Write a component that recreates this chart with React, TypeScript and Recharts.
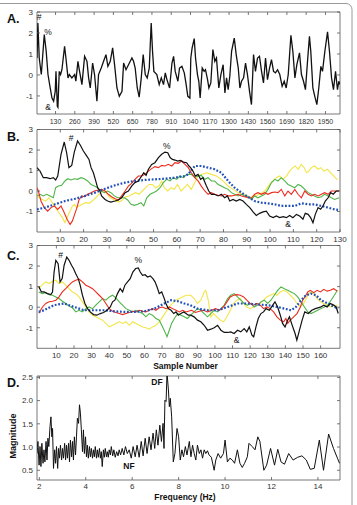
import { LineChart, Line, XAxis, YAxis, ReferenceArea } from 'recharts'

const FONT = '"Liberation Sans", Arial, Helvetica, sans-serif'
const BLACK = '#111111'
const RED = '#ee2b1e'
const GREEN = '#4eb548'
const YELLOW = '#f3e547'
const BLUE = '#1f4fb8'
const AXIS = '#555555'

type Pt = [number, number]

// ---- panel A: raw signal ----
const aTicksX = [130, 260, 390, 520, 650, 780, 910, 1040, 1170, 1300, 1430, 1560, 1690, 1820, 1950]
const aTicksY = [-1, 0, 1, 2, 3]
const aSignal: Pt[] = [
  [5, 0.81], [11, 2.48], [20, 0.81], [34, 0.02], [54, 1.92], [67, 1.13], [79, 0.02], [94, -0.62], [106, -1.1], [117, -1.25],
  [128, -0.78], [133, 0.17], [142, -1.49], [146, -1.54], [155, 0.17], [164, 0.02], [173, 0.25], [191, 1.36], [200, 0.81], [214, -0.14],
  [223, 0.02], [240, -0.14], [259, 0.02], [267, -0.3], [281, 0.65], [290, 0.25], [308, -0.46], [326, 0.89], [342, 0.65], [353, -0.14],
  [364, -0.62], [380, 0.57], [393, 0.02], [409, -1.25], [420, 0.02], [438, 0.33], [454, 0.65], [470, 0.97], [483, 0.41], [499, 0.65],
  [515, 1.29], [528, 0.49], [544, -0.62], [560, -1.02], [578, -0.78], [589, 0.57], [605, 0.25], [622, 0.49], [645, 0.81], [656, 0.65],
  [667, 0.33], [681, -0.62], [694, -1.06], [708, -0.14], [721, 0.97], [735, 0.02], [748, -0.14], [762, 0.33], [775, 2.48], [784, 1.13],
  [793, 0.17], [813, 0.02], [829, -0.46], [843, -0.14], [858, -0.46], [870, 0.1], [881, -0.22], [899, -0.62], [915, 0.57], [926, 0.89],
  [937, 0.17], [955, -0.3], [966, 0.33], [982, 0.41], [998, 0.1], [1009, -0.38], [1022, -1.02], [1036, -1.1], [1042, 0.81], [1051, 1.29],
  [1065, 1.73], [1074, 0.81], [1087, 0.02], [1096, -0.3], [1105, -1.1], [1119, 0.33], [1132, 0.17], [1141, 0.25], [1155, -0.22], [1164, -0.62],
  [1177, -0.38], [1191, 1.21], [1204, 0.65], [1215, 0.81], [1231, -0.62], [1245, 0.02], [1260, 0.49], [1272, -0.86], [1283, -0.14], [1294, -0.7],
  [1305, -0.06], [1317, 1.13], [1335, 1.76], [1348, 0.97], [1362, 0.33], [1373, -0.62], [1384, -0.3], [1398, -0.14], [1411, 0.57], [1424, 0.02],
  [1438, -0.78], [1451, -1.41], [1465, 0.97], [1478, 0.17], [1492, 0.81], [1505, 0.89], [1519, 0.17], [1532, -0.38], [1546, 0.81], [1559, -0.22],
  [1573, 0.33], [1586, 0.73], [1600, 0.17], [1613, 0.1], [1627, 0.25], [1642, 0.02], [1658, -0.54], [1672, -0.3], [1685, -0.62], [1699, 0.02],
  [1717, 1.89], [1730, 1.13], [1744, -0.14], [1757, 0.49], [1775, 1.05], [1788, 0.02], [1802, -0.3], [1815, -0.7], [1829, 0.65], [1842, 1.84],
  [1851, 1.13], [1865, -0.62], [1878, -1.02], [1892, -1.41], [1905, -0.62], [1919, 0.41], [1930, 0.17], [1946, 1.13], [1964, 2.05], [1977, 1.13],
  [1991, -0.14], [2004, -0.7], [2018, 0.17], [2031, -0.7], [2040, -0.3], [2048, -0.46],
]

// ---- panel B ----
const bTicksX = [10, 20, 30, 40, 50, 60, 70, 80, 90, 100, 110, 120, 130]
const bcTicksY = [-1, 0, 1, 2, 3]
const bBlack: Pt[] = [
  [0, 1.14], [1.3, 0.97], [2.7, 0.65], [4.1, 0.65], [5.6, 0.6], [7, 0.65], [8, 0.54], [8.9, 0.73], [10.3, 1.79], [11.7, 2.39],
  [12.7, 1.87], [13.7, 1.14], [14.9, 1.25], [16, 1.9], [17.4, 2.44], [18.6, 2.23], [19.9, 1.95], [21.3, 1.71], [22.3, 1.54], [23.2, 1.14],
  [24.2, 0.89], [25.2, 0.49], [26, 0.16], [27, 0], [27.7, -0.24], [29.2, -0.41], [30.3, -0.49], [31.7, -0.54], [33.5, -0.49], [34.9, -0.44],
  [36.3, -0.33], [37.8, -0.08], [39.2, 0], [40.6, 0.24], [42, 0.41], [43.5, 0.49], [44.9, 0.73], [45.8, 0.89], [46.8, 0.76], [47.8, 1.06],
  [49.2, 1.3], [50.6, 1.38], [52.1, 1.63], [53.5, 1.79], [54.9, 1.9], [56.1, 1.87], [57.1, 1.63], [58.1, 1.54], [59.2, 1.51], [60.4, 1.46],
  [61.5, 1.49], [62.8, 1.41], [64.2, 1.38], [65.2, 1.22], [65.9, 1.14], [66.9, 0.97], [67.9, 0.73], [69.1, 0.81], [70.2, 0.57], [71.2, 0.65],
  [72.7, 0.24], [73.7, 0], [74.8, -0.16], [76.2, -0.16], [77.7, -0.24], [79.1, -0.16], [80.5, -0.33], [81.7, -0.24], [82.7, -0.49], [84.1, -0.41],
  [85.5, -0.49], [87, -0.41], [88.4, -0.49], [89.8, -0.65], [91.3, -0.81], [92.7, -1.02], [94.1, -1.19], [95.5, -1.09], [97, -1.02], [98.4, -0.98],
  [99.8, -1.22], [101.3, -1.3], [102.7, -1.22], [104.1, -1.3], [105.6, -1.25], [107, -1.3], [108.4, -1.19], [109.8, -1.3], [111.3, -1.14], [112.7, -1.22],
  [114.1, -1.38], [115.1, -1.09], [116.3, -1.14], [117.4, -1.3], [118.4, -1.55], [119.4, -1.14], [120.6, -0.81], [121.7, -0.89], [122.7, -0.73], [123.7, -0.49],
  [124.9, -0.33], [126, -0.08], [127.1, -0.16], [128.4, 0], [129.6, 0],
]
const bRed: Pt[] = [
  [0, 0.16], [0.6, 0], [1.7, -0.49], [3.1, -0.81], [4.6, -0.98], [6, -0.81], [7.4, -0.73], [8.9, -0.9], [10.3, -0.73], [11.7, -1.06],
  [12.9, -1.38], [14.2, -1.63], [15.2, -1.46], [16, -1.19], [17, -0.86], [18, -0.44], [19.2, -0.24], [20.3, -0.28], [21.7, -0.16], [23.2, -0.08],
  [24.6, 0], [26.3, 0.05], [27.7, 0.08], [29.2, 0], [30.6, -0.16], [32, -0.28], [33.5, -0.38], [34.9, -0.44], [36.3, -0.24], [37.8, 0],
  [39.2, 0.24], [40.6, 0.37], [42, 0.57], [43.5, 0.73], [44.9, 0.73], [46.3, 0.81], [47.8, 0.97], [49.2, 1.09], [50.6, 1.19], [52.1, 1.14],
  [53.5, 1.25], [54.9, 1.22], [56.3, 1.3], [57.8, 1.22], [59.2, 1.38], [60.6, 1.35], [62.1, 1.46], [63.5, 1.3], [64.9, 1.14], [66.2, 0.89],
  [67.7, 0.65], [69.1, 0.49], [70.5, 0.24], [72, 0], [73.4, -0.16], [74.8, -0.08], [76.2, -0.16], [77.7, -0.21], [79.1, -0.24], [80.5, -0.16],
  [82, -0.24], [83.4, -0.24], [84.8, -0.21], [86.3, -0.16], [87.7, -0.24], [89.1, -0.28], [90.5, -0.33], [92, -0.33], [93.4, -0.16], [94.8, -0.08],
  [96.3, -0.16], [97.7, -0.08], [99.1, -0.16], [100.6, -0.08], [102, -0.05], [103.4, -0.08], [104.8, 0.08], [106.3, -0.24], [107.7, 0], [109.1, -0.16],
  [110.6, 0.08], [112, -0.16], [113.4, -0.33], [114.9, 0], [116.3, -0.16], [117.7, -0.24], [119.1, -0.16], [120.6, -0.24], [122, -0.16], [123.4, -0.08],
  [124.9, -0.16], [126.3, 0], [127.7, 0], [129.6, 0],
]
const bGreen: Pt[] = [
  [0, -0.24], [1.3, -0.16], [2.7, -0.24], [4.1, -0.16], [5.6, -0.24], [7, -0.33], [8, 0.16], [9.2, 0.24], [10.6, 0.28], [12, 0.49],
  [13.2, 0.6], [14.6, 0.54], [16, 0.6], [17.4, 0.57], [18.9, 0.65], [20.3, 0.6], [21.7, 0.49], [23.2, 0.32], [24.6, 0.24], [26, 0.16],
  [27.5, 0], [28.9, -0.08], [30.3, 0], [31.7, -0.08], [33.2, -0.24], [34.6, -0.33], [36, -0.33], [37.5, -0.33], [38.9, -0.44], [40.3, -0.65],
  [41.8, -0.7], [43.2, -0.65], [44.6, -0.57], [45.8, -0.73], [47.1, -0.33], [48.5, -0.16], [49.9, -0.08], [51.3, 0], [52.8, 0.16], [54.2, 0.41],
  [55.6, 0.57], [57.1, 0.49], [58.5, 0.65], [59.9, 0.57], [61.3, 0.73], [62.8, 0.65], [64.2, 0.81], [66.2, 0.81], [67.7, 0.65], [69.1, 0.73],
  [70.5, 0.76], [72, 0.57], [73.4, 0.65], [74.8, 0.49], [76.2, 0.49], [77.7, 0.32], [79.1, 0.24], [80.5, 0.16], [82, 0.08], [83.4, -0.08],
  [84.8, -0.16], [86.3, -0.24], [87.7, -0.16], [89.1, -0.24], [90.5, -0.28], [92, -0.41], [93.4, -0.24], [94.8, -0.33], [96.3, -0.24], [97.7, -0.16],
  [99.1, 0.08], [100.6, 0.41], [102, 0.57], [103.4, 0.49], [104.8, 0.65], [106.3, 0.49], [107.7, 0.32], [109.1, 0.24], [110.6, 0.16], [112, 0.32],
  [113.4, 0.24], [114.9, 0.08], [116.3, -0.08], [117.7, -0.16], [119.1, -0.24], [120.6, -0.33], [122, -0.28], [123.4, -0.16], [124.9, -0.24], [126.3, -0.33],
  [127.7, -0.41], [129.6, -0.33],
]
const bYellow: Pt[] = [
  [0, -0.16], [0.9, -0.33], [2.3, -0.41], [3.7, -0.49], [5.1, -0.33], [6.6, -0.57], [8, -0.81], [9.4, -1.06], [10.9, -1.3], [12, -1.55],
  [13.2, -1.22], [14.2, -0.98], [15.2, -0.73], [16, -0.65], [17, -0.81], [18, -0.73], [19.4, -0.65], [20.9, -0.57], [22.3, -0.6], [23.7, -0.49],
  [25.2, -0.33], [26.6, -0.16], [28, 0], [29.5, -0.05], [30.9, -0.28], [32.3, -0.38], [33.8, -0.49], [35.2, -0.54], [36.6, -0.44], [38, -0.28],
  [39.5, -0.24], [40.9, -0.16], [42.3, -0.08], [43.8, -0.16], [45.2, 0], [46.6, 0.16], [48.1, 0.32], [49.5, 0.32], [50.9, 0.16], [52.3, 0.24],
  [53.5, 0.49], [54.6, 0.16], [56.1, 0], [57.5, 0.16], [58.9, 0.08], [60.3, 0.32], [61.8, 0], [63.2, 0.16], [64.6, 0.32], [66.2, 0.08],
  [67.7, 0.41], [69.1, 0.73], [70.5, 0.81], [72.7, 0.89], [74.8, 0.81], [77, 0.73], [79.1, 0.57], [80.5, 0.41], [82, 0.24], [84.1, 0.08],
  [86.3, -0.08], [88.4, -0.16], [90.5, -0.24], [92, -0.33], [93.4, -0.24], [95.5, -0.16], [97.7, 0], [99.8, 0.32], [101.3, 0.49], [102.7, 0.65],
  [104.1, 0.73], [105.6, 0.57], [107, 0.73], [108.4, 0.97], [109.8, 1.14], [110.8, 1.22], [112, 1.06], [113.4, 1.3], [114.6, 1.14], [115.6, 0.89],
  [116.6, 0.97], [117.7, 1.14], [119.1, 1.22], [120.6, 1.06], [121.7, 1.14], [123.1, 0.97], [124.6, 1.06], [126, 0.89], [127.4, 0.73], [128.9, 0.54],
]
const bBlue: Pt[] = [
  [0, -0.9], [3.4, -0.81], [7.7, -0.65], [12, -0.49], [16.3, -0.38], [20.6, -0.24], [24.9, -0.08], [29.2, 0.11], [33.5, 0.28], [37.8, 0.41],
  [42, 0.49], [46.3, 0.54], [50.6, 0.57], [54.9, 0.6], [59.2, 0.65], [63.5, 0.73], [64.8, 0.81], [67.7, 1.22], [70.5, 1.22], [73.4, 1.14],
  [76.2, 1.06], [79.1, 0.89], [82, 0.49], [84.8, 0.16], [87.7, -0.08], [90.5, -0.28], [93.4, -0.49], [96.3, -0.57], [99.1, -0.6], [102, -0.65],
  [104.8, -0.73], [107.7, -0.73], [110.6, -0.73], [113.4, -0.6], [116.3, -0.65], [119.1, -0.65], [122, -0.73], [124.9, -0.81], [127.7, -0.9], [129.6, -0.93],
]

// ---- panel C ----
const cTicksX = [10, 20, 30, 40, 50, 60, 70, 80, 90, 100, 110, 120, 130, 140, 150, 160]
const cBlack: Pt[] = [
  [0, 1.0], [1.5, 0.74], [3, 0.74], [4.9, 0.66], [6.8, 0.61], [7.8, 0.74], [8.7, 1.71], [9.7, 2.28], [11, 2.12], [12.1, 1.23],
  [13.3, 1.39], [14.4, 2.04], [15.9, 2.44], [17.2, 2.28], [18.6, 2.04], [19.7, 1.88], [21, 1.63], [22.4, 1.39], [23.5, 1.07], [24.8, 0.58],
  [26.2, 0.18], [27.7, -0.07], [29.2, -0.23], [31.1, -0.36], [33, -0.39], [34.9, -0.31], [36.8, -0.26], [38.7, -0.15], [40.6, 0.01], [41.9, 0.26],
  [43.2, 0.34], [44.7, 0.66], [46.2, 0.9], [47.6, 0.74], [48.9, 1.07], [50.4, 1.23], [51.9, 1.39], [53.4, 1.71], [55, 1.88], [56.5, 1.91],
  [57.6, 1.71], [58.9, 1.55], [60.3, 1.58], [61.8, 1.47], [63.3, 1.52], [64.8, 1.39], [66, 1.23], [67.1, 0.99], [68.4, 0.66], [69.8, 0.74],
  [70.9, 0.5], [72.2, 0.18], [73.5, -0.07], [75.1, -0.15], [76.6, -0.31], [77.9, -0.23], [79.2, -0.39], [80.7, -0.31], [82.3, -0.23], [83.6, -0.31],
  [84.9, -0.39], [86.3, -0.39], [88.2, -0.47], [90.1, -0.63], [92, -0.71], [93.9, -0.88], [95.8, -1.12], [97.7, -1.07], [99.6, -1.0], [101.5, -0.88],
  [103.4, -1.12], [105.3, -1.23], [107.2, -1.23], [109, -1.2], [110.9, -1.28], [112.8, -1.12], [114.7, -1.2], [116.6, -1.04], [118.1, -1.2], [119.5, -0.96],
  [121, -1.36], [122, -1.44], [123.3, -0.96], [124.6, -0.55], [126.1, -0.31], [127.6, -0.23], [129, -0.07], [130.9, -0.15], [132.8, 0.1], [134.1, 0.26],
  [135.6, 0.01], [137.1, -0.39], [138.4, -0.79], [139.8, -0.96], [141.3, -0.63], [142.3, -0.47], [143.5, -0.79], [144.5, -1.04], [145.5, -1.28], [146.5, -1.6],
  [148, -1.12], [149.5, -0.63], [151, -0.23], [153, -0.31], [155, -0.15], [157, -0.07], [159.9, 0], [161.8, 0.1], [163.7, 0.01], [165.5, 0.18],
  [167.4, 0.1], [168.8, 0.01], [170, -0.31],
]
const cRed: Pt[] = [
  [0, -0.3], [2.1, 0.01], [4, 0.18], [5.9, 0.26], [7.8, 0.29], [9.7, 0.34], [11.5, 0.5], [13.4, 0.74], [15.3, 0.9], [17.2, 1.07],
  [19.1, 1.23], [21, 1.31], [22.9, 1.36], [24.8, 1.23], [26.7, 1.07], [28.6, 0.99], [30.5, 0.9], [32.4, 0.74], [34.3, 0.58], [36.2, 0.42],
  [38.1, 0.18], [40, -0.07], [41.9, -0.2], [43.8, -0.26], [45.7, -0.31], [47.6, -0.36], [49.5, -0.31], [51.4, -0.26], [53.3, -0.2], [55.2, -0.23],
  [57.1, -0.15], [59, -0.2], [60.8, -0.23], [62.7, -0.15], [64.6, -0.07], [66.5, -0.15], [68.4, -0.03], [70.3, 0.01], [72.2, -0.07], [74.1, 0.01],
  [76, -0.07], [77.9, -0.15], [79.8, -0.23], [81.7, -0.15], [83.6, -0.23], [86.7, -0.15], [89, -0.26], [91.2, -0.2], [93.5, -0.15], [95.8, -0.23],
  [98.1, -0.15], [100.3, -0.07], [102.6, -0.15], [104.9, 0.01], [106.8, 0.26], [108.7, 0.5], [110.6, 0.58], [112.5, 0.61], [114.4, 0.58], [116.3, 0.5],
  [118.1, 0.34], [120, 0.18], [121.9, 0.1], [123.8, 0.18], [125.7, 0.1], [127.6, -0.07], [129.5, 0.01], [131.4, -0.07], [133.3, -0.23], [135.2, -0.47],
  [137.1, -0.63], [139, -0.71], [140.3, -0.55], [141.3, -0.79], [142.8, -0.63], [144.7, -0.47], [146.6, -0.31], [148.5, 0.01], [149.8, 0.34], [151.1, 0.5],
  [152.7, 0.74], [154.2, 0.82], [156.1, 0.71], [158, 0.82], [159.9, 0.74], [161.8, 0.87], [163.7, 0.78], [165.5, 0.82], [167.4, 0.9], [169.5, 0.78],
]
const cGreen: Pt[] = [
  [0, 0.74], [2.1, 0.66], [4, 0.71], [5.9, 0.61], [7.8, 0.58], [9.7, 0.5], [11.5, 0.42], [13.4, 0.29], [15.3, 0.18], [17.2, 0.06],
  [19.1, -0.03], [21, -0.23], [22.9, -0.15], [24.8, -0.23], [26.7, -0.07], [28.6, 0.01], [30.5, -0.07], [32.4, 0.1], [34.3, 0.26], [36.2, 0.42],
  [38.1, 0.34], [40, 0.5], [41.9, 0.58], [43.8, 0.45], [45.7, 0.26], [47.6, 0.1], [49.5, -0.07], [51.4, -0.15], [53.3, -0.23], [55.2, -0.15],
  [57.1, -0.23], [59, -0.31], [60.8, -0.47], [62.7, -0.31], [64.6, -0.39], [66.5, -0.55], [68.4, -0.63], [70.3, -0.96], [71.6, -1.2], [72.8, -1.44],
  [74.1, -1.12], [75.4, -0.79], [77, -0.55], [78.9, -0.31], [80.8, -0.39], [82.6, -0.47], [84.4, -0.55], [86.3, -0.39], [88.2, -0.23], [90.1, -0.07],
  [92, -0.15], [93.9, -0.31], [95.8, -0.47], [97.7, -0.31], [99.6, -0.15], [101.5, -0.23], [103.4, -0.07], [105.3, 0.1], [107.2, 0.42], [109, 0.58],
  [110.9, 0.66], [112.8, 0.5], [114.7, 0.34], [116.6, 0.18], [118.5, 0.1], [120.4, 0.18], [122.3, 0.01], [124.2, 0.1], [126.1, 0.26], [128, 0.34],
  [129.9, 0.18], [131.8, 0.34], [133.7, 0.58], [135.6, 0.82], [137.5, 0.99], [139.4, 0.9], [141.3, 0.82], [143.2, 0.74], [145.1, 0.66], [147, 0.5],
  [148.9, 0.26], [150.8, 0.01], [152.7, -0.23], [154.5, -0.31], [156.4, -0.23], [158.3, -0.15], [160.2, -0.07], [162.1, 0.01], [164, 0.1], [165.9, 0.34],
  [167.8, 0.58], [169.5, 0.82],
]
const cYellow: Pt[] = [
  [0, 0.9], [2.1, 1.1], [4, 1.23], [5.9, 1.15], [7.8, 1.26], [9.7, 1.31], [11.5, 1.15], [13.4, 1.23], [15.3, 1.07], [17.2, 0.9],
  [19.1, 0.74], [21, 0.66], [22.9, 0.5], [24.8, 0.26], [26.7, 0.01], [28.6, -0.23], [30.5, -0.39], [32.4, -0.47], [34.3, -0.55], [36.2, -0.63],
  [38.1, -0.79], [40, -0.96], [41.9, -0.88], [43.8, -0.79], [45.7, -0.71], [47.6, -0.79], [49.5, -0.71], [51.4, -0.88], [53.3, -0.71], [55.2, -0.79],
  [57.1, -0.88], [59, -0.96], [60.8, -1.0], [62.7, -1.07], [64.6, -0.96], [66.5, -0.88], [68.4, -0.71], [70.3, -0.47], [72.2, -0.23], [74.1, 0.01],
  [76, 0.18], [77.9, 0.34], [79.8, 0.42], [81.7, 0.5], [83.6, 0.58], [86.3, 0.58], [88.2, 0.42], [90.1, 0.18], [92, 0.34], [93.9, 0.74],
  [94.8, 0.82], [96.2, 0.34], [97.7, -0.47], [99.2, -0.31], [101.1, -0.47], [103, -0.63], [104.9, -0.71], [106.8, -0.47], [108.7, -0.15], [110.6, 0.18],
  [112.5, 0.34], [114.4, 0.42], [116.3, 0.18], [118.1, 0.01], [120, -0.07], [121.9, 0.01], [123.8, 0.1], [125.7, 0.18], [127.6, 0.34], [129.5, 0.5],
  [131.4, 0.58], [133.3, 0.66], [135.2, 0.58], [137.1, 0.74], [139, 0.82], [140.9, 0.74], [142.8, 0.58], [144.7, 0.42], [146.6, 0.18], [148.5, 0.01],
  [150.4, 0.18], [152.3, 0.5], [154.2, 0.74], [156.1, 0.66], [158, 0.42], [159.9, 0.26], [161.8, 0.18], [163.7, 0.1], [165.5, 0.01], [167.4, 0.06],
  [169.5, 0.1],
]
const cBlue: Pt[] = [
  [0, -0.23], [3, -0.15], [8.7, 0.1], [14.4, 0.18], [20.1, 0.01], [25.8, -0.15], [31.5, -0.15], [37.1, -0.15], [42.8, -0.2], [48.5, -0.23],
  [54.2, -0.23], [59.9, -0.2], [65.6, -0.07], [71.3, 0.18], [75.1, 0.34], [78.9, 0.29], [82.6, 0.18], [86, 0.1], [90.1, -0.07], [95.8, -0.15],
  [101.5, -0.15], [107.2, 0.01], [112.8, 0.18], [118.5, 0.18], [124.2, 0.13], [129.9, 0.1], [135.6, 0.01], [139.4, -0.07], [143.2, -0.15], [146, 0.01],
  [148.9, 0.34], [151.7, 0.58], [154.5, 0.66], [157.4, 0.58], [160.2, 0.34], [164, 0.18], [167.8, 0.01], [170, -0.07],
]

// ---- panel D: spectrum ----
const dTicksX = [2, 4, 6, 8, 10, 12, 14]
const dTicksY = [0.5, 1.0, 1.5, 2.0, 2.5]
const dSpectrum: Pt[] = [
  [1.9, 0.86], [1.94, 1.12], [1.99, 0.61], [2.03, 1.01], [2.07, 0.58], [2.11, 1.08], [2.16, 0.65], [2.2, 0.94], [2.24, 0.68], [2.29, 1.12],
  [2.33, 0.72], [2.37, 1.19], [2.41, 1.01], [2.46, 1.44], [2.5, 1.65], [2.54, 1.22], [2.57, 1.4], [2.61, 0.54], [2.66, 0.94], [2.7, 0.65],
  [2.74, 1.01], [2.79, 0.54], [2.83, 0.97], [2.87, 0.76], [2.91, 1.04], [2.96, 0.72], [3.0, 0.97], [3.04, 0.76], [3.09, 1.08], [3.13, 0.72],
  [3.17, 1.04], [3.21, 0.76], [3.26, 1.08], [3.3, 0.68], [3.34, 1.15], [3.39, 0.79], [3.43, 1.12], [3.47, 0.72], [3.51, 1.22], [3.56, 0.83],
  [3.6, 1.22], [3.64, 1.62], [3.69, 1.51], [3.73, 1.91], [3.77, 1.73], [3.81, 1.37], [3.86, 0.9], [3.9, 1.37], [3.94, 0.86], [3.99, 1.22],
  [4.03, 0.79], [4.07, 1.04], [4.11, 0.76], [4.16, 1.01], [4.2, 0.79], [4.24, 0.97], [4.29, 0.76], [4.33, 0.94], [4.37, 0.79], [4.41, 1.01],
  [4.46, 0.76], [4.5, 0.94], [4.54, 0.78], [4.59, 0.97], [4.63, 0.76], [4.67, 0.9], [4.71, 0.58], [4.76, 0.94], [4.8, 0.78], [4.84, 0.97],
  [4.89, 0.79], [4.93, 0.9], [4.97, 0.78], [5.01, 0.94], [5.06, 0.83], [5.1, 1.01], [5.16, 0.81], [5.21, 0.94], [5.27, 0.78], [5.33, 0.9],
  [5.39, 0.81], [5.44, 0.94], [5.5, 0.83], [5.57, 0.97], [5.64, 0.83], [5.71, 1.01], [5.79, 0.86], [5.87, 0.94], [5.96, 0.76], [6.04, 1.01],
  [6.13, 0.79], [6.21, 1.04], [6.3, 0.78], [6.39, 1.12], [6.47, 0.81], [6.56, 1.19], [6.64, 0.86], [6.73, 1.22], [6.81, 0.94], [6.9, 1.3],
  [6.97, 0.97], [7.04, 1.37], [7.11, 1.04], [7.19, 1.47], [7.26, 1.12], [7.33, 1.51], [7.37, 0.97], [7.41, 2.01], [7.46, 1.98], [7.5, 2.6],
  [7.56, 2.23], [7.6, 1.87], [7.64, 2.05], [7.7, 1.65], [7.77, 0.68], [7.84, 0.86], [7.93, 1.4], [8.0, 1.22], [8.07, 0.72], [8.14, 0.94],
  [8.21, 0.79], [8.29, 1.01], [8.36, 0.83], [8.46, 1.12], [8.53, 0.79], [8.6, 1.04], [8.67, 0.86], [8.74, 0.72], [8.81, 1.04], [8.89, 0.86],
  [8.96, 0.94], [9.03, 0.76], [9.1, 0.94], [9.17, 0.86], [9.24, 0.92], [9.31, 0.83], [9.41, 0.78], [9.53, 0.5], [9.6, 0.72], [9.7, 0.86],
  [9.81, 0.76], [9.93, 0.86], [10.0, 1.15], [10.1, 0.68], [10.21, 0.76], [10.31, 0.72], [10.41, 0.65], [10.53, 0.94], [10.64, 0.65], [10.74, 0.56],
  [10.84, 0.65], [10.96, 0.79], [11.03, 1.08], [11.17, 1.01], [11.29, 0.94], [11.41, 1.22], [11.5, 1.12], [11.67, 0.5], [11.79, 0.61], [11.96, 0.97],
  [12.13, 0.61], [12.27, 0.95], [12.41, 0.68], [12.56, 0.63], [12.74, 0.86], [12.93, 0.72], [13.13, 0.78], [13.31, 0.81], [13.5, 0.72], [13.67, 0.52],
  [13.84, 0.54], [14.06, 1.15], [14.24, 0.5], [14.46, 1.28], [14.67, 0.97], [14.84, 0.76], [14.93, 0.65],
]

interface Box { top: number; bottom: number; left: number; right: number }
interface Series { data: Pt[]; color: string; width: number; dash?: string }

const pts = (a: Pt[]) => a.map(([x, y]) => ({ x, y }))

function Panel({ box, xDomain, yDomain, xTicks, yTicks, yFmt, series, xFont = 8, xLabelDy = 10 }: {
  box: Box; xDomain: [number, number]; yDomain: [number, number]; xTicks: number[]; yTicks: number[]
  yFmt?: (v: number) => string; series: Series[]; xFont?: number; xLabelDy?: number
}) {
  // inward ticks on both sides like the MATLAB box; labels outside
  const xTick = (p: any) => (
    <g>
      <line x1={p.x} x2={p.x} y1={box.bottom} y2={box.bottom - 3} stroke={AXIS} strokeWidth={0.8} />
      <line x1={p.x} x2={p.x} y1={box.top} y2={box.top + 3} stroke={AXIS} strokeWidth={0.8} />
      <text x={p.x} y={box.bottom + xLabelDy} textAnchor="middle" fontSize={xFont} fill="#333" fontFamily={FONT}>{p.payload.value}</text>
    </g>
  )
  const yTick = (p: any) => (
    <g>
      <line x1={box.left} x2={box.left + 3} y1={p.y} y2={p.y} stroke={AXIS} strokeWidth={0.8} />
      <line x1={box.right} x2={box.right - 3} y1={p.y} y2={p.y} stroke={AXIS} strokeWidth={0.8} />
      <text x={box.left - 4} y={p.y + 2.8} textAnchor="end" fontSize={8} fill="#333" fontFamily={FONT}>
        {yFmt ? yFmt(p.payload.value) : p.payload.value}
      </text>
    </g>
  )
  return (
    <div style={{ position: 'absolute', left: 0, top: 0 }}>
      <LineChart width={357} height={505}
        margin={{ top: box.top, bottom: 505 - box.bottom - 2, left: box.left - 2, right: 357 - box.right }}>
        <XAxis dataKey="x" type="number" domain={xDomain} ticks={xTicks} interval={0} allowDataOverflow
          height={2} tickSize={0} tickMargin={0} tickLine={false} axisLine={false} tick={xTick} />
        <YAxis type="number" domain={yDomain} ticks={yTicks} interval={0} allowDataOverflow
          width={2} tickSize={0} tickMargin={0} tickLine={false} axisLine={false} tick={yTick} />
        <ReferenceArea x1={xDomain[0]} x2={xDomain[1]} y1={yDomain[0]} y2={yDomain[1]}
          fill="none" fillOpacity={0} stroke={AXIS} strokeWidth={0.8} ifOverflow="visible" />
        {series.map((s, i) => (
          <Line key={i} data={pts(s.data)} dataKey="y" type="linear" stroke={s.color} strokeWidth={s.width}
            strokeDasharray={s.dash} dot={false} activeDot={false} isAnimationActive={false} />
        ))}
      </LineChart>
    </div>
  )
}

const bcSeries = (black: Pt[], red: Pt[], green: Pt[], yellow: Pt[], blue: Pt[]): Series[] => [
  { data: yellow, color: YELLOW, width: 1.1 },
  { data: green, color: GREEN, width: 1.1 },
  { data: red, color: RED, width: 1.1 },
  { data: blue, color: BLUE, width: 2.2, dash: '1.8 1.7' },
  { data: black, color: BLACK, width: 1.2 },
]

export default function App() {
  return (
    <div style={{ position: 'absolute', left: 0, top: 0, width: 357, height: 505, background: '#fff', overflow: 'hidden' }}>
      <Panel box={{ top: 12, bottom: 114, left: 37, right: 340 }} xDomain={[5, 2048]} yDomain={[-1.86, 3]}
        xTicks={aTicksX} yTicks={aTicksY} xFont={7} xLabelDy={9.5}
        series={[{ data: aSignal, color: BLACK, width: 1.3 }]} />
      <Panel box={{ top: 129.5, bottom: 232, left: 37, right: 340 }} xDomain={[0, 130]} yDomain={[-2, 3]}
        xTicks={bTicksX} yTicks={bcTicksY} series={bcSeries(bBlack, bRed, bGreen, bYellow, bBlue)} />
      <Panel box={{ top: 245.5, bottom: 348.3, left: 37, right: 340 }} xDomain={[-1, 171]} yDomain={[-2, 3]}
        xTicks={cTicksX} yTicks={bcTicksY} series={bcSeries(cBlack, cRed, cGreen, cYellow, cBlue)} />
      <Panel box={{ top: 376, bottom: 480, left: 37, right: 340 }} xDomain={[1.9, 14.95]} yDomain={[0.29, 2.53]}
        xTicks={dTicksX} yTicks={dTicksY} yFmt={(v) => v.toFixed(1)} xLabelDy={9}
        series={[{ data: dSpectrum, color: BLACK, width: 1 }]} />
      <svg width={357} height={505} style={{ position: 'absolute', left: 0, top: 0 }}>
        <path d="M0,3.5 H346 A6,6 0 0 1 352,9.5 V505" fill="none" stroke="#9a9a9a" strokeWidth={1} />
        <g fontFamily={FONT} fill="#111" fontWeight="bold" fontSize={12.5}>
          <text x={7} y={23}>A.</text>
          <text x={7} y={141}>B.</text>
          <text x={7} y={260}>C.</text>
          <text x={7} y={386.5}>D.</text>
        </g>
        <g fontFamily={FONT} fill="#111" fontSize={8.5} textAnchor="middle">
          <text x={39} y={20}>#</text>
          <text x={48} y={35}>%</text>
          <text x={48} y={110}>&amp;</text>
          <text x={71} y={140.7}>#</text>
          <text x={166.7} y={148.5}>%</text>
          <text x={288} y={227.3}>&amp;</text>
          <text x={60.5} y={258.3}>#</text>
          <text x={138.3} y={263.3}>%</text>
          <text x={236.5} y={343.3}>&amp;</text>
        </g>
        <g fontFamily={FONT} fill="#111" fontWeight="bold" fontSize={8.5} textAnchor="middle">
          <text x={157} y={385}>DF</text>
          <text x={129} y={468.5}>NF</text>
          <text x={185.5} y={368.5}>Sample Number</text>
          <text x={185} y={500}>Frequency (Hz)</text>
          <text transform="translate(16,436) rotate(-90)" fontSize={9}>Magnitude</text>
        </g>
      </svg>
    </div>
  )
}
